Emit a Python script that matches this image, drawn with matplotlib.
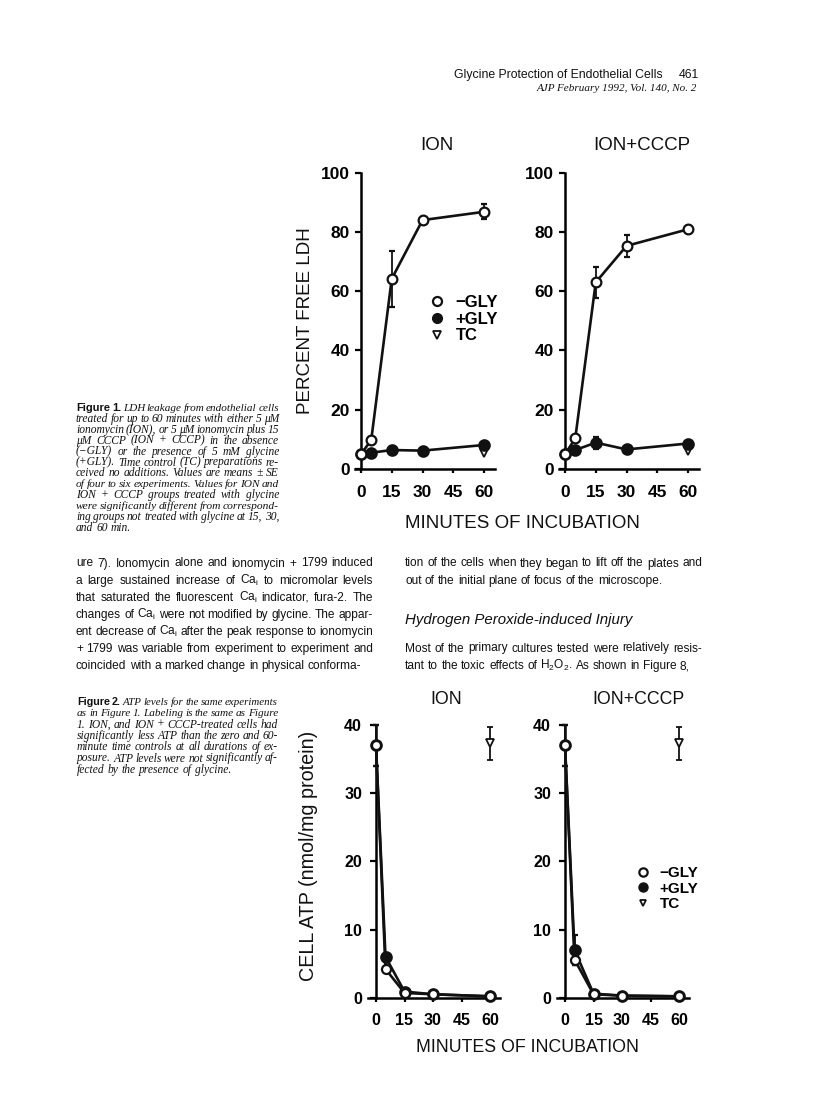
import matplotlib
matplotlib.use('Agg')
import matplotlib.pyplot as plt
from matplotlib.lines import Line2D

plt.rcParams['font.family'] = ['Liberation Sans', 'DejaVu Sans']
plt.rcParams['mathtext.fontset'] = 'custom'
plt.rcParams['mathtext.rm'] = 'Liberation Sans'

# data (minutes, percent / nmol per mg)
times = [0, 5, 15, 30, 60]
tc_time = [60]

ldh_ion_minus = [5.0, 9.8, 64.2, 84.0, 86.8]
ldh_ion_minus_se = [0.5, 1.0, 9.4, 1.0, 2.5]
ldh_ion_plus = [4.9, 5.5, 6.4, 6.2, 8.1]
ldh_ion_plus_se = [0.5, 0.5, 0.5, 0.5, 0.8]
ldh_ion_tc = [5.5]

ldh_cccp_minus = [5.0, 10.3, 63.0, 75.3, 80.9]
ldh_cccp_minus_se = [0.5, 1.0, 5.3, 3.8, 1.0]
ldh_cccp_plus = [5.0, 6.4, 8.9, 6.6, 8.6]
ldh_cccp_plus_se = [0.5, 0.5, 2.0, 0.5, 0.8]
ldh_cccp_tc = [6.2]

atp_ion_minus = [37.0, 4.2, 0.7, 0.5, 0.2]
atp_ion_minus_se = [3.0, 0.5, 0.2, 0.1, 0.1]
atp_ion_plus = [37.0, 6.0, 0.9, 0.5, 0.2]
atp_ion_plus_se = [3.0, 0.5, 0.2, 0.1, 0.1]
atp_ion_tc = [37.3]
atp_ion_tc_se = [2.4]

atp_cccp_minus = [37.0, 5.6, 0.5, 0.3, 0.2]
atp_cccp_minus_se = [3.0, 0.8, 0.2, 0.1, 0.1]
atp_cccp_plus = [37.0, 7.0, 0.6, 0.3, 0.2]
atp_cccp_plus_se = [3.0, 2.2, 0.2, 0.1, 0.1]
atp_cccp_tc = [37.3]
atp_cccp_tc_se = [2.4]

legend_labels = ['\u2212GLY', '+GLY', 'TC']
xticks = [0, 15, 30, 45, 60]
ldh_yticks = [0, 20, 40, 60, 80, 100]
atp_yticks = [0, 10, 20, 30, 40]

W, H = 816, 1110
fig = plt.figure(figsize=(W / 100, H / 100), dpi=100)
INK = '#111111'


def fx(x):
    return x / W


def fy(y):
    return 1 - y / H


def panel(x0, pxmin, xlim, ytop, ybot, ylim, yticks, tsize, xpad, ypad):
    left = x0 + xlim[0] * pxmin
    right = x0 + xlim[1] * pxmin
    ax = fig.add_axes([fx(left), fy(ybot), (right - left) / W, (ybot - ytop) / H])
    ax.set_xlim(*xlim)
    ax.set_ylim(*ylim)
    for s in ['top', 'right']:
        ax.spines[s].set_visible(False)
    ax.spines['left'].set_position(('data', 0))
    ax.spines['left'].set_bounds(ylim[0], ylim[1])
    ax.spines['left'].set_linewidth(1.8)
    ax.spines['bottom'].set_linewidth(1.8)
    ax.set_xticks(xticks)
    ax.set_yticks(yticks)
    ax.tick_params(axis='x', direction='out', length=3, width=1.6, pad=xpad, labelsize=tsize)
    ax.tick_params(axis='y', direction='out', length=4.5, width=1.6, pad=ypad, labelsize=tsize)
    for lab in ax.get_xticklabels() + ax.get_yticklabels():
        lab.set_fontweight('bold')
    ax.patch.set_visible(False)
    return ax


def series(ax, t, y, e, filled, ms, z):
    c = ax.errorbar(t, y, yerr=e, color=INK, lw=1.9, marker='o', ms=ms, mew=1.6,
                    mfc=INK if filled else 'white', mec=INK, capsize=2.4,
                    elinewidth=1.3, capthick=1.3, zorder=z)
    for a in c.get_children():
        a.set_clip_on(False)


def tc(ax, y, e, ms):
    c = ax.errorbar(tc_time, y, yerr=e, color=INK, ls='none', marker='v', ms=ms, mew=1.3,
                    mfc='white', mec=INK, capsize=2.4, elinewidth=1.3, capthick=1.3, zorder=2)
    for a in c.get_children():
        a.set_clip_on(False)


def legend(ax, left, top, size, ms):
    hs = [Line2D([], [], ls='none', marker='o', mfc='white', mec=INK, mew=1.6, ms=ms),
          Line2D([], [], ls='none', marker='o', mfc=INK, mec=INK, ms=ms + 0.5),
          Line2D([], [], ls='none', marker='v', mfc='white', mec=INK, mew=1.3, ms=ms - 1)]
    ax.legend(hs, legend_labels, loc='upper left', bbox_to_anchor=(fx(left), fy(top)),
              bbox_transform=fig.transFigure, frameon=False, borderpad=0, borderaxespad=0,
              handlelength=1, handletextpad=0.6, labelspacing=0.1,
              prop=dict(family='Liberation Sans', weight='bold', size=size))


# Figure 1: LDH
ax1 = panel(361, 2.05, (-3, 65.5), 172.7, 469, (0, 100), ldh_yticks, 12.5, 8.5, 3.5)
series(ax1, times, ldh_ion_plus, ldh_ion_plus_se, True, 7.5, 3)
series(ax1, times, ldh_ion_minus, ldh_ion_minus_se, False, 7, 4)
tc(ax1, ldh_ion_tc, None, 6)
legend(ax1, 429, 295, 12, 6.5)

ax2 = panel(565, 2.05, (-3, 65.5), 172.7, 469, (0, 100), ldh_yticks, 12.5, 8.5, 3.5)
series(ax2, times, ldh_cccp_plus, ldh_cccp_plus_se, True, 7.5, 3)
series(ax2, times, ldh_cccp_minus, ldh_cccp_minus_se, False, 7, 4)
tc(ax2, ldh_cccp_tc, None, 6)

lab = dict(color=INK, family='Liberation Sans', size=13.5)
fig.text(fx(437), fy(145), 'ION', ha='center', va='center', **lab)
fig.text(fx(642), fy(145), 'ION+CCCP', ha='center', va='center', **lab)
fig.text(fx(522), fy(523), 'MINUTES OF INCUBATION', ha='center', va='center', **lab)
fig.text(fx(305), fy(321), 'PERCENT FREE LDH', ha='center', va='center', rotation=90, **lab)

# Figure 2: ATP
ax3 = panel(376, 1.9, (-4, 65.5), 725, 997.7, (0, 40), atp_yticks, 11.5, 8, 5.5)
series(ax3, times, atp_ion_plus, atp_ion_plus_se, True, 7.5, 3)
series(ax3, times, atp_ion_minus, atp_ion_minus_se, False, 6.5, 4)
tc(ax3, atp_ion_tc, atp_ion_tc_se, 6)

ax4 = panel(565, 1.9, (-4, 65.5), 725, 997.7, (0, 40), atp_yticks, 11.5, 8, 5.5)
series(ax4, times, atp_cccp_plus, atp_cccp_plus_se, True, 7.5, 3)
series(ax4, times, atp_cccp_minus, atp_cccp_minus_se, False, 6.5, 4)
tc(ax4, atp_cccp_tc, atp_cccp_tc_se, 6)
legend(ax4, 635, 866, 11, 6)

lab2 = dict(color=INK, family='Liberation Sans', size=12.8)
fig.text(fx(446), fy(699), 'ION', ha='center', va='center', **lab2)
fig.text(fx(638), fy(700), 'ION+CCCP', ha='center', va='center', **lab2)
fig.text(fx(528), fy(1047), 'MINUTES OF INCUBATION', ha='center', va='center', **lab2)
fig.text(fx(308), fy(856), 'CELL ATP (nmol/mg protein)', ha='center', va='center',
         rotation=90, color=INK, family='Liberation Sans', size=14.2)

# page text
styles = {
    'body': dict(family='Liberation Sans', size=8.6),
    'cap': dict(family='Liberation Serif', style='italic', size=8.3),
    'capb': dict(family='Liberation Sans', weight='bold', size=8.2),
}
renderer = fig.canvas.get_renderer()


def put_line(tokens, x0, x1, ybase, justify):
    texts = [fig.text(0, fy(ybase), w, va='baseline', ha='left', color=INK, **styles[s])
             for w, s in tokens]
    widths = [t.get_window_extent(renderer).width for t in texts]
    size = styles[tokens[-1][1]]['size']
    gap = 0.27 * size * 100 / 72
    n = len(texts)
    if n > 1 and sum(widths) + (n - 1) * 2.0 > x1 - x0:
        # too long for the column: shrink this line a little
        k = (x1 - x0 - (n - 1) * 2.0) / sum(widths)
        for t, (w, s) in zip(texts, tokens):
            t.set_fontsize(styles[s]['size'] * k)
        widths = [t.get_window_extent(renderer).width for t in texts]
    if justify and n > 1:
        gap = (x1 - x0 - sum(widths)) / (n - 1)
    x = x0
    for t, w in zip(texts, widths):
        t.set_x(fx(x))
        x += w + gap


def paragraph(lines, style, x0, x1, y0, dy, first_bold=0):
    for i, line in enumerate(lines):
        toks = [(w, style) for w in line.split(' ')]
        if i == 0:
            for k in range(first_bold):
                toks[k] = (toks[k][0], 'capb')
        put_line(toks, x0, x1, y0 + i * dy, i < len(lines) - 1)


CA = 'Ca$_\\mathregular{i}$'
left_col = [
    'ure 7). Ionomycin alone and ionomycin + 1799 induced',
    'a large sustained increase of ' + CA + ' to micromolar levels',
    'that saturated the fluorescent ' + CA + ' indicator, fura-2. The',
    'changes of ' + CA + ' were not modified by glycine. The appar-',
    'ent decrease of ' + CA + ' after the peak response to ionomycin',
    '+ 1799 was variable from experiment to experiment and',
    'coincided with a marked change in physical conforma-',
]
right_col_a = [
    'tion of the cells when they began to lift off the plates and',
    'out of the initial plane of focus of the microscope.',
]
right_col_b = [
    'Most of the primary cultures tested were relatively resis-',
    'tant to the toxic effects of H$_\\mathregular{2}$O$_\\mathregular{2}$. As shown in Figure 8,',
]
caption1 = [
    'Figure 1. LDH leakage from endothelial cells',
    'treated for up to 60 minutes with either 5 \u03bcM',
    'ionomycin (ION), or 5 \u03bcM ionomycin plus 15',
    '\u03bcM CCCP (ION + CCCP) in the absence',
    '(\u2212GLY) or the presence of 5 mM glycine',
    '(+GLY). Time control (TC) preparations re-',
    'ceived no additions. Values are means \u00b1 SE',
    'of four to six experiments. Values for ION and',
    'ION + CCCP groups treated with glycine',
    'were significantly different from correspond-',
    'ing groups not treated with glycine at 15, 30,',
    'and 60 min.',
]
caption2 = [
    'Figure 2. ATP levels for the same experiments',
    'as in Figure 1. Labeling is the same as Figure',
    '1. ION, and ION + CCCP-treated cells had',
    'significantly less ATP than the zero and 60-',
    'minute time controls at all durations of ex-',
    'posure. ATP levels were not significantly af-',
    'fected by the presence of glycine.',
]

paragraph(left_col, 'body', 76, 373, 566.5, 17.05)
paragraph(right_col_a, 'body', 405, 702, 566.5, 17.05)
paragraph(right_col_b, 'body', 405, 702, 651.5, 17.7)
fig.text(fx(405), fy(624), 'Hydrogen Peroxide-induced Injury', ha='left', va='baseline',
         color=INK, family='Liberation Sans', style='italic', size=10.8)
paragraph(caption1, 'cap', 76, 279, 411, 10.9, first_bold=2)
paragraph(caption2, 'cap', 77, 278, 705, 11.3, first_bold=2)

fig.text(fx(663), fy(78), 'Glycine Protection of Endothelial Cells', ha='right', va='baseline',
         color=INK, family='Liberation Sans', size=8.8)
fig.text(fx(699), fy(78), '461', ha='right', va='baseline', color=INK,
         family='Liberation Sans', size=8.8)
fig.text(fx(697), fy(91), 'AJP February 1992, Vol. 140, No. 2', ha='right', va='baseline',
         color=INK, family='Liberation Serif', style='italic', size=8)

fig.savefig('out.png', dpi=100, facecolor='white')
